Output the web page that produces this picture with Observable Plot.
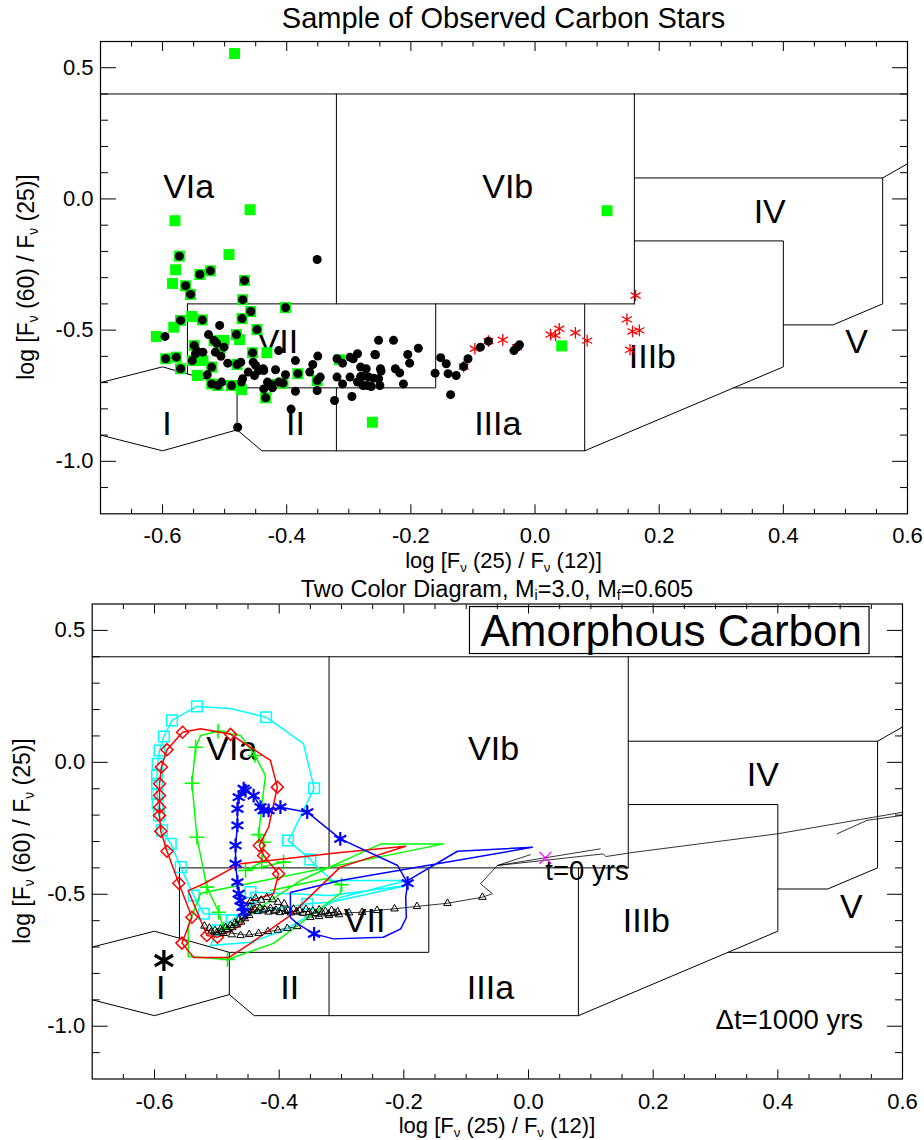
<!DOCTYPE html>
<html>
<head>
<meta charset="utf-8">
<script src="https://cdn.jsdelivr.net/npm/d3@7"></script>
<script src="https://cdn.jsdelivr.net/npm/@observablehq/plot@0.6"></script>
<style>
  body { margin: 0; background: #fff; }
  #wrap { position: relative; width: 924px; height: 1140px; overflow: hidden; background: #fff; }
  #wrap svg { position: absolute; left: 0; }
</style>
</head>
<body>
<div id="wrap"></div>
<script>
const FONT = '"Liberation Sans", Arial, Helvetica, sans-serif';

// ---------- axes / ticks ----------
const xDomain = [-0.7, 0.6];
const yDomain = [-1.2, 0.6];
const xMajorTicks = [-0.6, -0.4, -0.2, 0.0, 0.2, 0.4, 0.6];
const xMinorTicks = [-0.65, -0.55, -0.5, -0.45, -0.35, -0.3, -0.25, -0.15, -0.1, -0.05, 0.05, 0.1, 0.15, 0.25, 0.3, 0.35, 0.45, 0.5, 0.55];
const yMajorTicks = [-1.0, -0.5, 0.0, 0.5];
const yMinorTicks = [-1.1, -0.9, -0.8, -0.7, -0.6, -0.4, -0.3, -0.2, -0.1, 0.1, 0.2, 0.3, 0.4];

// ---------- van der Veen & Habing region boundaries (data units) ----------
const regionLines = [
  [[-0.7, 0.4], [0.6, 0.4]],
  [[-0.32, 0.4], [-0.32, -0.40]],
  [[-0.56, -0.40], [0.16, -0.40]],
  [[0.16, 0.4], [0.16, -0.40]],
  [[0.16, 0.08], [0.56, 0.08], [0.6, 0.134]],
  [[0.56, 0.08], [0.56, -0.40], [0.48, -0.48], [0.40, -0.48]],
  [[0.16, -0.16], [0.40, -0.16], [0.40, -0.64], [0.08, -0.96]],
  [[0.32, -0.72], [0.6, -0.72]],
  [[0.08, -0.40], [0.08, -0.96], [-0.44, -0.96], [-0.48, -0.88], [-0.6, -0.96], [-0.7, -0.90]],
  [[-0.16, -0.40], [-0.16, -0.72], [-0.48, -0.72], [-0.48, -0.88]],
  [[-0.32, -0.72], [-0.32, -0.96]],
  [[-0.56, -0.40], [-0.56, -0.667]],
  [[-0.7, -0.70], [-0.6, -0.64], [-0.48, -0.72]]
];
const regionSegs = regionLines.flatMap((pts, i) => pts.map(([x, y]) => ({x, y, id: i})));

const regionLabelsTop = [
  {label: "VIa", x: -0.558, y: 0.044}, {label: "VIb", x: -0.044, y: 0.044},
  {label: "IV", x: 0.378, y: -0.052}, {label: "V", x: 0.518, y: -0.547},
  {label: "IIIb", x: 0.189, y: -0.604}, {label: "IIIa", x: -0.060, y: -0.86},
  {label: "II", x: -0.386, y: -0.86}, {label: "I", x: -0.593, y: -0.86},
  {label: "VII", x: -0.415, y: -0.547}
];
const regionLabelsBottom = [
  {label: "VIa", x: -0.476, y: 0.049}, {label: "VIb", x: -0.056, y: 0.049},
  {label: "IV", x: 0.376, y: -0.05}, {label: "V", x: 0.518, y: -0.55},
  {label: "IIIb", x: 0.189, y: -0.60}, {label: "VII", x: -0.263, y: -0.60},
  {label: "IIIa", x: -0.061, y: -0.857}, {label: "II", x: -0.383, y: -0.857},
  {label: "I", x: -0.59, y: -0.857}
];

// ---------- top panel: observed carbon stars ----------
const blackStars = [
  [-0.351,-0.231],[-0.573,-0.218],[-0.540,-0.288],[-0.523,-0.274],[-0.563,-0.331],[-0.555,-0.364],[-0.468,-0.311],[-0.471,-0.384],
  [-0.402,-0.414],[-0.458,-0.429],[-0.472,-0.456],[-0.571,-0.463],[-0.536,-0.461],[-0.508,-0.482],[-0.596,-0.524],[-0.448,-0.498],
  [-0.481,-0.517],[-0.526,-0.517],[-0.517,-0.540],[-0.513,-0.550],[-0.549,-0.559],[-0.501,-0.565],[-0.515,-0.584],[-0.413,-0.578],
  [-0.455,-0.586],[-0.544,-0.581],[-0.547,-0.590],[-0.535,-0.584],[-0.595,-0.609],[-0.578,-0.603],[-0.552,-0.616],[-0.506,-0.600],
  [-0.474,-0.622],[-0.454,-0.622],[-0.495,-0.626],[-0.450,-0.635],[-0.438,-0.647],[-0.418,-0.651],[-0.386,-0.616],[-0.358,-0.631],
  [-0.350,-0.599],[-0.319,-0.609],[-0.310,-0.626],[-0.298,-0.603],[-0.286,-0.590],[-0.257,-0.594],[-0.252,-0.539],[-0.571,-0.647],
  [-0.521,-0.641],[-0.480,-0.631],[-0.462,-0.660],[-0.445,-0.654],[-0.437,-0.654],[-0.452,-0.673],[-0.402,-0.670],[-0.382,-0.666],
  [-0.363,-0.660],[-0.346,-0.679],[-0.351,-0.692],[-0.528,-0.670],[-0.471,-0.685],[-0.431,-0.698],[-0.426,-0.707],[-0.413,-0.698],
  [-0.406,-0.702],[-0.521,-0.705],[-0.511,-0.711],[-0.505,-0.698],[-0.489,-0.711],[-0.473,-0.698],[-0.319,-0.679],[-0.310,-0.705],
  [-0.298,-0.679],[-0.286,-0.698],[-0.278,-0.677],[-0.270,-0.711],[-0.260,-0.683],[-0.250,-0.711],[-0.437,-0.724],[-0.423,-0.720],
  [-0.386,-0.733],[-0.351,-0.730],[-0.434,-0.758],[-0.323,-0.768],[-0.295,-0.753],[-0.393,-0.801],[-0.479,-0.870],[-0.293,-0.609],
  [-0.281,-0.641],[-0.272,-0.647],[-0.281,-0.677],[-0.268,-0.679],[-0.277,-0.711],[-0.264,-0.715],[-0.228,-0.539],[-0.258,-0.593],
  [-0.249,-0.647],[-0.248,-0.656],[-0.252,-0.685],[-0.225,-0.647],[-0.218,-0.663],[-0.212,-0.705],[-0.205,-0.593],[-0.202,-0.626],
  [-0.188,-0.569],[-0.161,-0.664],[-0.152,-0.605],[-0.143,-0.628],[-0.140,-0.666],[-0.127,-0.673],[-0.136,-0.746],[-0.115,-0.639],
  [-0.108,-0.609],[-0.088,-0.565],[-0.075,-0.542],[-0.034,-0.578],[-0.029,-0.565],[-0.025,-0.556]
];
const greenStars = [
  [-0.484,0.554],[-0.580,-0.083],[-0.459,-0.041],[0.116,-0.045],[-0.262,-0.851],[0.043,-0.560],[-0.573,-0.218],[-0.493,-0.212],
  [-0.579,-0.270],[-0.540,-0.288],[-0.523,-0.274],[-0.584,-0.322],[-0.563,-0.331],[-0.555,-0.364],[-0.468,-0.311],[-0.471,-0.384],
  [-0.402,-0.414],[-0.458,-0.429],[-0.472,-0.456],[-0.571,-0.463],[-0.553,-0.448],[-0.536,-0.461],[-0.582,-0.489],[-0.610,-0.524],
  [-0.448,-0.498],[-0.481,-0.517],[-0.476,-0.536],[-0.501,-0.539],[-0.549,-0.559],[-0.432,-0.586],[-0.455,-0.586],[-0.595,-0.609],
  [-0.578,-0.603],[-0.571,-0.647],[-0.552,-0.616],[-0.535,-0.616],[-0.544,-0.673],[-0.480,-0.631],[-0.521,-0.641],[-0.382,-0.666],
  [-0.351,-0.692],[-0.521,-0.705],[-0.511,-0.711],[-0.489,-0.711],[-0.473,-0.727],[-0.434,-0.758],[-0.406,-0.702],[-0.315,-0.613],
  [-0.426,-0.707],[-0.517,-0.540],[-0.508,-0.578]
];
const redStars = [
  [-0.097,-0.571],[-0.052,-0.537],[0.025,-0.517],[0.033,-0.520],[0.039,-0.495],[0.065,-0.510],[0.084,-0.540],[0.162,-0.368],
  [0.148,-0.459],[0.157,-0.505],[0.168,-0.501],[0.153,-0.575],[-0.115,-0.639],[-0.075,-0.542],[-0.029,-0.565]
];

// ---------- bottom panel: model tracks (x, y, marker at 1000-yr step) ----------
const cyanTrack = [
  [-0.430,-0.516,0],[-0.476,-0.599,1],[-0.499,-0.637,1],[-0.510,-0.694,0],[-0.446,-0.682,0],[-0.393,-0.637,0],[-0.302,-0.512,0],
  [-0.195,-0.448,0],[-0.315,-0.448,0],[-0.345,-0.383,0],[-0.350,-0.368,1],[-0.386,-0.296,1],[-0.379,-0.269,0],[-0.344,-0.098,1],
  [-0.361,0.071,0],[-0.421,0.171,1],[-0.478,0.204,0],[-0.532,0.212,1],[-0.572,0.159,1],[-0.585,0.098,1],[-0.592,0.045,1],
  [-0.595,-0.006,1],[-0.596,-0.050,1],[-0.596,-0.081,1],[-0.596,-0.119,1],[-0.595,-0.157,1],[-0.593,-0.201,1],[-0.588,-0.258,1],
  [-0.574,-0.309,1],[-0.558,-0.397,1],[-0.537,-0.505,1],[-0.521,-0.574,1],[-0.462,-0.580,0],[-0.355,-0.536,1],[-0.318,-0.530,0],
  [-0.195,-0.467,0],[-0.318,-0.505,0],[-0.446,-0.492,1],[-0.443,-0.530,0]
];
const redTrack = [
  [-0.446,-0.524,0],[-0.409,-0.498,0],[-0.401,-0.422,1],[-0.425,-0.353,1],[-0.432,-0.315,1],[-0.417,-0.246,0],[-0.403,-0.094,1],
  [-0.414,0.007,0],[-0.478,0.106,1],[-0.526,0.127,0],[-0.555,0.114,1],[-0.580,0.048,1],[-0.589,-0.018,1],[-0.592,-0.081,1],
  [-0.592,-0.126,1],[-0.592,-0.170,1],[-0.592,-0.201,1],[-0.590,-0.261,1],[-0.580,-0.337,1],[-0.561,-0.458,1],[-0.540,-0.587,1],
  [-0.556,-0.685,1],[-0.537,-0.740,0],[-0.481,-0.740,0],[-0.446,-0.686,0],[-0.382,-0.580,0],[-0.302,-0.397,0],[-0.197,-0.318,0],
  [-0.302,-0.342,0],[-0.462,-0.384,0],[-0.521,-0.460,0],[-0.546,-0.486,0],[-0.516,-0.656,1],[-0.499,-0.663,1],[-0.462,-0.618,0],
  [-0.438,-0.542,0]
];
const greenTrack = [
  [-0.393,-0.378,1],[-0.454,-0.410,1],[-0.428,-0.378,1],[-0.425,-0.303,1],[-0.433,-0.274,1],[-0.427,-0.145,0],[-0.422,-0.050,0],
  [-0.439,0.026,1],[-0.462,0.102,0],[-0.498,0.118,1],[-0.526,0.102,0],[-0.534,0.057,1],[-0.540,-0.079,1],[-0.532,-0.284,1],
  [-0.516,-0.473,1],[-0.497,-0.568,1],[-0.489,-0.631,1],[-0.462,-0.599,0],[-0.366,-0.448,0],[-0.237,-0.309,0],[-0.136,-0.309,0],
  [-0.526,-0.496,0],[-0.546,-0.618,0],[-0.546,-0.736,0],[-0.483,-0.747,1],[-0.409,-0.686,0],[-0.302,-0.497,0],[-0.300,-0.464,1],
  [-0.326,-0.441,0],[-0.414,-0.486,0]
];
const blueTrack = [
  [-0.457,-0.568,1],[-0.459,-0.549,1],[-0.462,-0.524,1],[-0.465,-0.498,1],[-0.467,-0.454,1],[-0.470,-0.384,1],[-0.470,-0.315,1],
  [-0.467,-0.239,1],[-0.467,-0.176,1],[-0.465,-0.132,1],[-0.457,-0.100,1],[-0.454,-0.107,1],[-0.441,-0.126,1],[-0.430,-0.170,1],
  [-0.425,-0.182,1],[-0.417,-0.182,1],[-0.398,-0.170,1],[-0.355,-0.189,1],[-0.302,-0.290,1],[-0.210,-0.391,0],[-0.194,-0.458,1],
  [-0.197,-0.512,0],[-0.196,-0.588,0],[-0.205,-0.631,0],[-0.233,-0.663,0],[-0.313,-0.669,0],[-0.344,-0.650,1],[-0.371,-0.611,0],
  [-0.382,-0.588,0],[-0.382,-0.493,0],[-0.302,-0.448,0],[0.006,-0.322,0],[-0.114,-0.337,0],[-0.194,-0.448,0]
];
const blackTrack = [
  [0.600,-0.189,0],[0.399,-0.271,0],[0.169,-0.341,0],[0.124,-0.357,0],[0.120,-0.347,0],[-0.050,-0.391,0],[-0.077,-0.460,0],
  [-0.058,-0.498,0],[-0.074,-0.511,1],[-0.130,-0.534,1],[-0.179,-0.546,1],[-0.215,-0.555,1],[-0.243,-0.561,1],[-0.267,-0.568,1],
  [-0.288,-0.570,1],[-0.304,-0.577,1],[-0.320,-0.580,1],[-0.336,-0.584,1],[-0.350,-0.587,1],[-0.400,-0.560,0],[-0.452,-0.528,0],
  [-0.445,-0.560,0],[-0.472,-0.615,0],[-0.500,-0.640,0],[-0.450,-0.655,0],[-0.371,-0.622,0]
];
const blackTrackExtra = [
  [[0.600,-0.201],[0.543,-0.220],[0.495,-0.271]],
  [[0.115,-0.328],[-0.050,-0.391],[0.003,-0.350]]
];
const blackClusterTriangles = [
  [-0.447,-0.548],[-0.440,-0.556],[-0.431,-0.551],[-0.423,-0.558],[-0.414,-0.553],[-0.405,-0.560],[-0.396,-0.554],[-0.386,-0.561],
  [-0.377,-0.556],[-0.367,-0.562],[-0.357,-0.557],[-0.346,-0.563],[-0.336,-0.559],[-0.326,-0.565],[-0.316,-0.561],[-0.306,-0.566],
  [-0.444,-0.561],[-0.435,-0.565],[-0.426,-0.562],[-0.417,-0.567],[-0.408,-0.564],[-0.399,-0.569],[-0.390,-0.565],[-0.381,-0.570],
  [-0.372,-0.566],[-0.362,-0.571],[-0.352,-0.568],[-0.342,-0.572],[-0.331,-0.569],[-0.321,-0.574],[-0.311,-0.571],
  [-0.446,-0.527],[-0.438,-0.515],[-0.429,-0.522],[-0.420,-0.512],[-0.411,-0.520],[-0.402,-0.530],[-0.392,-0.536],
  [-0.452,-0.572],[-0.458,-0.585],[-0.465,-0.597],[-0.471,-0.609],[-0.478,-0.618],[-0.486,-0.626],[-0.494,-0.632],[-0.503,-0.637],
  [-0.448,-0.580],[-0.455,-0.592],[-0.461,-0.605],[-0.468,-0.616],[-0.475,-0.626],[-0.483,-0.633],[-0.492,-0.640],[-0.500,-0.645],
  [-0.509,-0.642],[-0.512,-0.628],[-0.520,-0.620],[-0.489,-0.648],[-0.476,-0.653],[-0.462,-0.656],[-0.448,-0.652],[-0.433,-0.648],
  [-0.418,-0.641],[-0.402,-0.636],[-0.387,-0.629],[-0.371,-0.622]
];
const startPoint = [[0.027, -0.362]];   // t = 0
const finalPoint = [[-0.585, -0.751]];  // end of track
const bottomNotes = [
  {text: "t=0 yrs", x: 0.027, y: -0.414},
  {text: "\u0394t=1000 yrs", x: 0.300, y: -0.978}
];
const boxNote = [{text: "Amorphous Carbon", x: 0.229, y: 0.496}];

// ---------- helpers ----------
const tf = d => d.toFixed(1);
const blank = () => "";
function axes() {
  return [
    Plot.axisX(xMajorTicks, {anchor: "bottom", tickSize: -9, tickPadding: 23, tickFormat: tf, label: null, fontSize: 22}),
    Plot.axisX(xMinorTicks, {anchor: "bottom", tickSize: -4.5, tickFormat: blank, label: null}),
    Plot.axisX(xMajorTicks, {anchor: "top", tickSize: -9, tickFormat: blank, label: null}),
    Plot.axisX(xMinorTicks, {anchor: "top", tickSize: -4.5, tickFormat: blank, label: null}),
    Plot.axisY(yMajorTicks, {anchor: "left", tickSize: -16, tickPadding: 23, tickFormat: tf, label: null, fontSize: 22}),
    Plot.axisY(yMinorTicks, {anchor: "left", tickSize: -8, tickFormat: blank, label: null}),
    Plot.axisY(yMajorTicks, {anchor: "right", tickSize: -16, tickFormat: blank, label: null}),
    Plot.axisY(yMinorTicks, {anchor: "right", tickSize: -8, tickFormat: blank, label: null})
  ];
}
const X = d => d[0], Y = d => d[1];

function richText(svg, {x, y, rotate = false, size, anchor = "middle", parts}) {
  const t = d3.select(svg).append("text")
    .attr("transform", `translate(${x},${y})` + (rotate ? " rotate(-90)" : ""))
    .attr("text-anchor", anchor).attr("font-size", size)
    .attr("font-family", FONT).attr("fill", "#000");
  let shift = 0;
  for (const p of parts) {
    const sub = typeof p !== "string";
    const target = sub ? size * 0.16 : 0;
    t.append("tspan").attr("dy", target - shift)
      .attr("font-size", sub ? size * 0.6 : size)
      .text(sub ? p.sub : p);
    shift = target;
  }
}
const xLabelParts = ["log [F", {sub: "\u03BD"}, " (25) / F", {sub: "\u03BD"}, " (12)]"];
const yLabelParts = ["log [F", {sub: "\u03BD"}, " (60) / F", {sub: "\u03BD"}, " (25)]"];

const wrap = document.getElementById("wrap");

// ---------- top panel ----------
const topPlot = Plot.plot({
  width: 924, height: 600,
  marginTop: 41, marginBottom: 86.7, marginLeft: 100, marginRight: 17,
  x: {domain: xDomain}, y: {domain: yDomain},
  style: {fontFamily: FONT, fontSize: "22px", color: "#000", background: "transparent", overflow: "visible"},
  marks: [
    Plot.line(regionSegs, {x: "x", y: "y", z: "id", stroke: "#000", strokeWidth: 1, clip: true}),
    Plot.text(regionLabelsTop, {x: "x", y: "y", text: "label", fontSize: 34, fill: "#000"}),
    Plot.dot(redStars, {x: X, y: Y, symbol: "asterisk", r: 5.5, stroke: "#ff0000", strokeWidth: 1.3}),
    Plot.dot(greenStars, {x: X, y: Y, symbol: "square", r: 6.2, fill: "#00ff00", stroke: null}),
    Plot.dot(blackStars, {x: X, y: Y, r: 4.5, fill: "#000", stroke: null}),
    Plot.frame({stroke: "#000", strokeWidth: 1.2}),
    ...axes()
  ]
});
topPlot.style.top = "0px";
wrap.appendChild(topPlot);
d3.select(topPlot).append("text").attr("x", 503.5).attr("y", 28).attr("text-anchor", "middle")
  .attr("font-size", 29).attr("font-family", FONT).attr("fill", "#000").text("Sample of Observed Carbon Stars");
richText(topPlot, {x: 503.5, y: 568, size: 22, parts: xLabelParts});
richText(topPlot, {x: 34, y: 277, rotate: true, size: 23, parts: yLabelParts});

// ---------- bottom panel ----------
const triMarks = blackTrack.filter(d => d[2]).concat(blackClusterTriangles);
const bottomPlot = Plot.plot({
  width: 924, height: 580,
  marginTop: 43.5, marginBottom: 61.5, marginLeft: 91.7, marginRight: 22,
  x: {domain: xDomain}, y: {domain: yDomain},
  style: {fontFamily: FONT, fontSize: "22px", color: "#000", background: "transparent", overflow: "visible"},
  marks: [
    Plot.line(regionSegs, {x: "x", y: "y", z: "id", stroke: "#000", strokeWidth: 1, clip: true}),
    Plot.text(regionLabelsBottom, {x: "x", y: "y", text: "label", fontSize: 34, fill: "#000"}),
    Plot.line(blackTrack, {x: X, y: Y, stroke: "#000", strokeWidth: 0.8, clip: true}),
    ...blackTrackExtra.map(seg => Plot.line(seg, {x: X, y: Y, stroke: "#000", strokeWidth: 0.8, clip: true})),
    Plot.line(cyanTrack, {x: X, y: Y, stroke: "#00ffff", strokeWidth: 1.5, clip: true}),
    Plot.dot(cyanTrack.filter(d => d[2]), {x: X, y: Y, symbol: "square", r: 6, fill: "none", stroke: "#00ffff", strokeWidth: 1.5}),
    Plot.line(greenTrack, {x: X, y: Y, stroke: "#00ff00", strokeWidth: 1.5, clip: true}),
    Plot.dot(greenTrack.filter(d => d[2]), {x: X, y: Y, symbol: "plus", r: 4.8, stroke: "#00ff00", strokeWidth: 1.6}),
    Plot.line(redTrack, {x: X, y: Y, stroke: "#ff0000", strokeWidth: 1.5, clip: true}),
    Plot.dot(redTrack.filter(d => d[2]), {x: X, y: Y, symbol: "diamond2", r: 5.4, fill: "none", stroke: "#ff0000", strokeWidth: 1.5}),
    Plot.dot(triMarks, {x: X, y: Y, symbol: "triangle", r: 2.8, fill: "none", stroke: "#000", strokeWidth: 1}),
    Plot.line(blueTrack, {x: X, y: Y, stroke: "#0000ff", strokeWidth: 1.5, clip: true}),
    Plot.dot(blueTrack.filter(d => d[2]), {x: X, y: Y, symbol: "asterisk", r: 6.5, stroke: "#0000ff", strokeWidth: 2.2}),
    Plot.dot(startPoint, {x: X, y: Y, symbol: "times", r: 5.5, stroke: "#ff00ff", strokeWidth: 1.3}),
    Plot.dot(finalPoint, {x: X, y: Y, symbol: "asterisk", r: 10, stroke: "#000", strokeWidth: 3.2}),
    Plot.text(bottomNotes, {x: "x", y: "y", text: "text", textAnchor: "start", fontSize: 27.5, fill: "#000"}),
    Plot.text(boxNote, {x: "x", y: "y", text: "text", fontSize: 44, fill: "#000"}),
    Plot.frame({stroke: "#000", strokeWidth: 1.2}),
    ...axes()
  ]
});
bottomPlot.style.top = "560px";
wrap.appendChild(bottomPlot);
richText(bottomPlot, {x: 497, y: 36.5, size: 23.5, parts: ["Two Color Diagram, M", {sub: "i"}, "=3.0, M", {sub: "f"}, "=0.605"]});
richText(bottomPlot, {x: 497, y: 573, size: 22, parts: xLabelParts});
richText(bottomPlot, {x: 30, y: 281, rotate: true, size: 23, parts: yLabelParts});

// box behind "Amorphous Carbon" (same transform as the text)
d3.select(bottomPlot).selectAll("text").filter(function() { return this.textContent === "Amorphous Carbon"; })
  .each(function() {
    const bb = this.getBBox();
    d3.select(this.parentNode).insert("rect", () => this)
      .attr("transform", this.getAttribute("transform"))
      .attr("x", bb.x - 11).attr("y", bb.y + 1).attr("width", bb.width + 18).attr("height", bb.height - 2)
      .attr("fill", "#fff").attr("stroke", "#000").attr("stroke-width", 1.2);
  });
</script>
</body>
</html>
